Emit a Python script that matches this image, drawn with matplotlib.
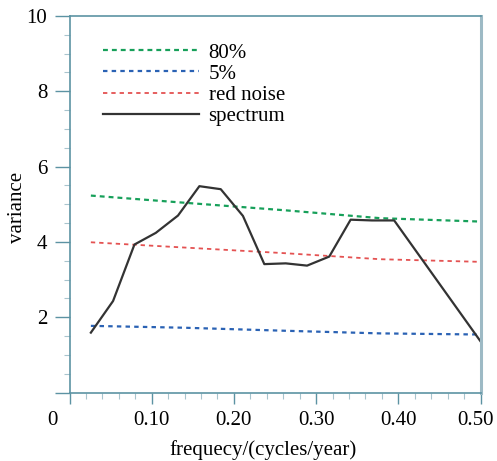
import matplotlib
matplotlib.use("Agg")
import matplotlib.pyplot as plt
import matplotlib.transforms as mtransforms
from matplotlib.ticker import MultipleLocator, FixedLocator

plt.rcParams['font.family'] = ['Liberation Serif', 'DejaVu Serif']

# spectrum (frequency in cycles/year, variance)
freq = [0.026, 0.053, 0.079, 0.105, 0.132, 0.158, 0.184, 0.211, 0.237,
        0.263, 0.289, 0.316, 0.342, 0.368, 0.395, 0.500]
spectrum = [1.59, 2.43, 3.93, 4.24, 4.70, 5.48, 5.40, 4.69, 3.41,
            3.43, 3.37, 3.61, 4.59, 4.57, 4.57, 1.36]

# reference curves
ref_freq = [0.026, 0.140, 0.262, 0.378, 0.500]
level_80 = [5.23, 5.04, 4.84, 4.63, 4.54]
level_5 = [1.77, 1.72, 1.64, 1.57, 1.54]
red_noise = [3.99, 3.85, 3.70, 3.54, 3.47]

xticks = [0, 0.1, 0.2, 0.3, 0.4, 0.5]
xlabels = ['0', '0.10', '0.20', '0.30', '0.40', '0.50']
yticks = [0, 2, 4, 6, 8, 10]
ylabels = ['', '2', '4', '6', '8', '10']

fig = plt.figure(figsize=(4.97, 4.61), dpi=100)
ax = fig.add_axes([69.5 / 497, 1 - 392.5 / 461, 411 / 497, 376.5 / 461])

ax.plot(ref_freq, level_80, color='#17a05a', lw=1.6, ls=(0, (2.2, 1.8)), label='80%')
ax.plot(ref_freq, level_5, color='#2a62b4', lw=1.6, ls=(0, (2.0, 1.9)), label='5%')
ax.plot(ref_freq, red_noise, color='#e45252', lw=1.3, ls=(0, (2.4, 2.2)), label='red noise')
ax.plot(freq, spectrum, color='#333333', lw=1.6, label='spectrum')

ax.set_xlim(0, 0.5)
ax.set_ylim(0, 10)
ax.xaxis.set_major_locator(FixedLocator(xticks))
ax.set_xticklabels(xlabels)
ax.xaxis.set_minor_locator(MultipleLocator(0.02))
ax.yaxis.set_major_locator(FixedLocator(yticks))
ax.set_yticklabels(ylabels)
ax.yaxis.set_minor_locator(MultipleLocator(0.5))

spine_col = '#5c93a3'
for s in ['left', 'top', 'bottom']:
    ax.spines[s].set_color(spine_col)
    ax.spines[s].set_linewidth(1.2)
ax.spines['right'].set_color('#9dbac5')
ax.spines['right'].set_linewidth(2.2)

ax.tick_params(which='major', direction='out', length=8, width=1.0,
               color=spine_col, labelsize=15, pad=5)
ax.tick_params(which='minor', direction='out', length=4, width=0.8,
               color='#a8c4cd')
ax.tick_params(axis='x', which='major', pad=5)
ax.tick_params(axis='y', which='major', length=11)

# nudge the end labels like in the original
for lab in ax.get_xticklabels():
    if lab.get_text() == '0':
        lab.set_transform(lab.get_transform() +
                          mtransforms.ScaledTranslation(-0.17, 0, fig.dpi_scale_trans))
    if lab.get_text() == '0.50':
        lab.set_transform(lab.get_transform() +
                          mtransforms.ScaledTranslation(-0.05, 0, fig.dpi_scale_trans))

fig.text(263 / 497, 1 - 450 / 461, 'frequecy/(cycles/year)', ha='center',
         va='center', fontsize=15)
fig.text(18 / 497, 1 - 207 / 461, 'variance', ha='center', va='center',
         rotation=90, fontsize=15)

ax.legend(loc='upper left', bbox_to_anchor=(0.062, 0.95), frameon=False,
          fontsize=15, handlelength=4.6, handletextpad=0.45,
          labelspacing=0.07, borderaxespad=0)

fig.savefig('out.png', dpi=100)
